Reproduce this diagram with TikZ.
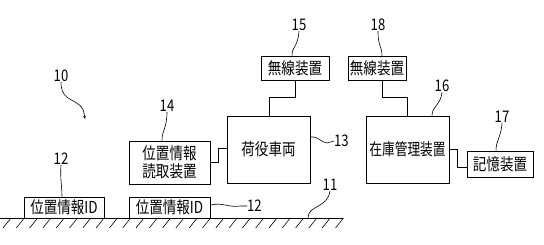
\documentclass[tikz,border=0pt]{standalone}
\usepackage{fontspec}
\usetikzlibrary{arrows.meta}
\setmainfont{Noto Sans CJK JP}[FakeStretch=0.82]
\newfontfamily\narrowcjk{Noto Sans CJK JP}[FakeStretch=0.77]
\begin{document}
\begin{tikzpicture}[x=1pt,y=-1pt,
  box/.style={draw, line width=0.8pt, inner sep=0pt, align=center, font=\fontsize{16.5}{18}\selectfont},
  num/.style={inner sep=0pt, font=\fontsize{16}{16}\selectfont},
  lead/.style={line width=0.6pt},
  wire/.style={line width=0.8pt}]
\useasboundingbox (0,0) rectangle (544,244);
% boxes
\node[box, minimum width=68pt, minimum height=24pt] (b15) at (295,68) {無線装置};
\node[box, minimum width=58pt, minimum height=24pt] (b18) at (377,68) {無線装置};
\node[box, minimum width=83pt, minimum height=67pt] (b13) at (268.5,149.5) {荷役車両};
\node[box, minimum width=83pt, minimum height=67pt] (b16) at (407.5,149.5) {\narrowcjk 在庫管理装置};
\node[box, minimum width=66pt, minimum height=26pt] (b17) at (500,164) {記憶装置};
\node[box, minimum width=81pt, minimum height=43pt] (b14) at (169.5,162.5) {位置情報\\読取装置};
\node[box, minimum width=80pt, minimum height=21pt] (b12a) at (64,207.5) {位置情報ID};
\node[box, minimum width=81pt, minimum height=21pt] (b12b) at (169.5,207.5) {位置情報ID};
% ground
\draw[line width=0.8pt] (0,218) coordinate (g0) -- (343,218) coordinate (g1);
\foreach \i in {0,...,25} \draw[line width=0.6pt] (3+\i*13.3,228) -- (11+\i*13.3,218);
% connectors
\draw[wire] (b15.south -| 295,0) -- (295,97) -- (269,97) -- (b13.north -| 269,0);
\draw[wire] (b18.south -| 382,0) -- (382,97) -- (407,97) -- (b16.north -| 407,0);
\draw[wire] (b16.east |- 0,149) -- (457,149) -- (457,167) -- (b17.west |- 0,167);
\draw[wire] (b14.east |- 0,162) -- (218,162) -- (218,148) -- (b13.west |- 0,148);
% labels
\node[num] (l15) at (299,25) {15};
\node[num] (l18) at (378,25) {18};
\node[num] (l16) at (442,86) {16};
\node[num] (l17) at (502,117) {17};
\node[num, anchor=west] (l13) at (334,141) {13};
\node[num] (l11) at (330,185) {11};
\node[num] (l14) at (167,106) {14};
\node[num] (l12a) at (61,159) {12};
\node[num, anchor=west] (l12b) at (247,206) {12};
\node[num] (l10) at (61,76) {10};
% leaders
\draw[lead] (b15.north -| 292,0) .. controls (292,46) and (298,47) .. (l15.south);
\draw[lead] (b18.north -| 382,0) .. controls (382,46) and (378,47) .. (l18.south);
\draw[lead] (b16.north -| 432,0) .. controls (432,106) and (441,105) .. (l16.south);
\draw[lead] (b17.north -| 496,0) .. controls (496,140) and (501,138) .. (l17.south);
\draw[lead] (b13.east |- 0,137) .. controls (318,136) and (322,143) .. (327,143) -- (l13.west);
\draw[lead] (308,218) .. controls (308,205) and (328,208) .. (l11.south);
\draw[lead] (b14.north -| 162,0) .. controls (162,130) and (167,128) .. (l14.south);
\draw[lead] (b12a.north -| 62,0) .. controls (62,185) and (60,180) .. (l12a.south);
\draw[lead] (b12b.east |- 0,205) .. controls (222,202) and (230,208) .. (240,206) -- (l12b.west);
\draw[lead, -{Stealth[length=3pt,width=2.5pt]}] (l10.south) .. controls (61,98) and (70,98) .. (78,104) .. controls (84,108) and (84,113) .. (85,119);
\end{tikzpicture}
\end{document}
